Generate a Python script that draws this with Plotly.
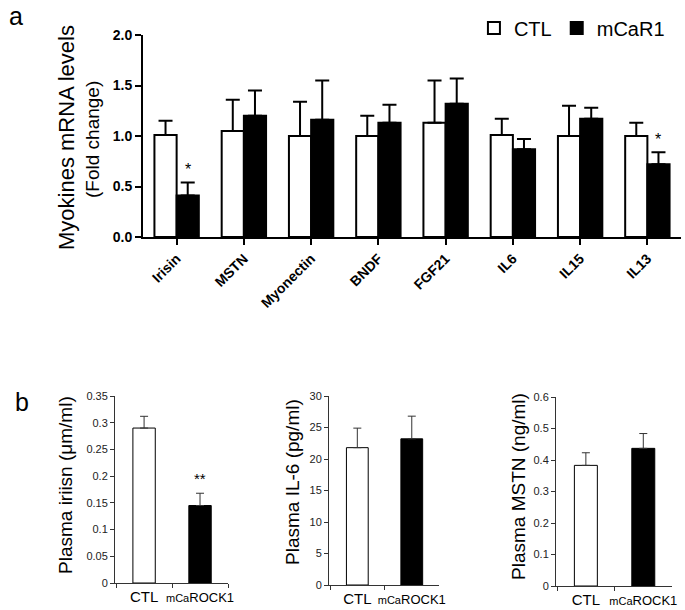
import plotly.graph_objects as go

W, H = 685, 610

# panel a: myokine mRNA (fold change)
myokines = ['Irisin', 'MSTN', 'Myonectin', 'BNDF', 'FGF21', 'IL6', 'IL15', 'IL13']
ctl_mrna = [1.01, 1.05, 1.00, 1.00, 1.13, 1.01, 1.00, 1.00]
ctl_mrna_err = [0.14, 0.31, 0.34, 0.20, 0.42, 0.16, 0.30, 0.13]
mcar_mrna = [0.41, 1.20, 1.16, 1.13, 1.32, 0.87, 1.17, 0.72]
mcar_mrna_err = [0.13, 0.25, 0.39, 0.18, 0.25, 0.10, 0.11, 0.12]

# panel b: plasma levels
groups = ['CTL', 'mCaROCK1']
group_labels = ['<span style="font-size:15px">CTL</span>',
                '<span style="font-size:11px">mCa</span>ROCK1']
irisin_vals = [0.290, 0.145]
irisin_err = [0.022, 0.023]
il6_vals = [21.8, 23.2]
il6_err = [3.1, 3.6]
mstn_vals = [0.383, 0.437]
mstn_err = [0.040, 0.047]

FONT = 'Arial, Liberation Sans, sans-serif'


def px_x(a, b):
    return [a / W, b / W]


def px_y(top, bottom):
    return [1 - bottom / H, 1 - top / H]


fig = go.Figure()

fig.add_trace(go.Bar(
    x=myokines, y=ctl_mrna, name='CTL',
    marker=dict(color='white', line=dict(color='black', width=2)),
    error_y=dict(type='data', array=ctl_mrna_err, arrayminus=[0] * 8, symmetric=False,
                 color='black', thickness=2, width=7),
    xaxis='x', yaxis='y'))
fig.add_trace(go.Bar(
    x=myokines, y=mcar_mrna, name='mCaR1',
    marker=dict(color='black', line=dict(color='black', width=2)),
    error_y=dict(type='data', array=mcar_mrna_err, arrayminus=[0] * 8, symmetric=False,
                 color='black', thickness=2, width=7),
    xaxis='x', yaxis='y'))

bottom = [(irisin_vals, irisin_err, '2'), (il6_vals, il6_err, '3'), (mstn_vals, mstn_err, '4')]
for vals, errs, n in bottom:
    fig.add_trace(go.Bar(
        x=groups, y=vals, width=0.4, showlegend=False,
        marker=dict(color=['white', 'black'], line=dict(color='black', width=1)),
        error_y=dict(type='data', array=errs, arrayminus=[0, 0], symmetric=False,
                     color='#333', thickness=1, width=4),
        xaxis='x' + n, yaxis='y' + n))

top_axis = dict(showline=True, linecolor='black', linewidth=2, ticks='outside',
                ticklen=6, tickwidth=2, tickcolor='black', showgrid=False, zeroline=False,
                automargin=False)
fig.update_layout(
    xaxis=dict(top_axis, domain=px_x(143, 681), anchor='y', range=[-0.5, 7.5], tickangle=-45,
               tickfont=dict(family=FONT, size=14, color='black', weight='bold')),
    yaxis=dict(top_axis, domain=px_y(35, 237), anchor='x', range=[0, 2.0], dtick=0.5,
               tickformat='.1f',
               tickfont=dict(family=FONT, size=14, color='black', weight='bold')),
)

bot_axis = dict(showline=True, linecolor='#333', linewidth=1, ticks='outside', ticklen=4,
                tickwidth=1, tickcolor='#333', showgrid=False, zeroline=False,
                automargin=False,
                tickfont=dict(family=FONT, size=11, color='#222'))
bot_x = dict(bot_axis, range=[-0.52, 1.5], tickson='boundaries', tickvals=groups,
             ticktext=group_labels, tickangle=0, ticklabelstandoff=2,
             tickfont=dict(family=FONT, size=13, color='black'))
fig.update_layout(
    xaxis2=dict(bot_x, domain=px_x(115, 228), anchor='y2'),
    yaxis2=dict(bot_axis, domain=px_y(396, 583), anchor='x2', range=[0, 0.35], dtick=0.05,
                tickformat='~g'),
    xaxis3=dict(bot_x, domain=px_x(329, 439), anchor='y3'),
    yaxis3=dict(bot_axis, domain=px_y(396, 585), anchor='x3', range=[0, 30], dtick=5),
    xaxis4=dict(bot_x, domain=px_x(556, 672), anchor='y4'),
    yaxis4=dict(bot_axis, domain=px_y(397, 586), anchor='x4', range=[0, 0.6], dtick=0.1,
                tickformat='~g'),
)

ann = []
# panel letters
ann.append(dict(text='a', x=16 / W, y=1 - 16 / H, xref='paper', yref='paper',
                xanchor='center', yanchor='middle',
                showarrow=False, font=dict(family=FONT, size=25, color='black')))
ann.append(dict(text='b', x=22 / W, y=1 - 402 / H, xref='paper', yref='paper',
                xanchor='center', yanchor='middle',
                showarrow=False, font=dict(family=FONT, size=25, color='black')))
# y titles
ann.append(dict(text='Myokines mRNA levels', x=67 / W, y=1 - 138 / H, xref='paper',
                yref='paper', textangle=-90, showarrow=False,
                xanchor='center', yanchor='middle',
                font=dict(family=FONT, size=22, color='black')))
ann.append(dict(text='(Fold change)', x=92 / W, y=1 - 140 / H, xref='paper',
                yref='paper', textangle=-90, showarrow=False,
                xanchor='center', yanchor='middle',
                font=dict(family=FONT, size=19, color='black')))
for txt, cx, cy in [('Plasma iriisn (\u03bcm/ml)', 65, 485),
                    ('Plasma IL-6 (pg/ml)', 293, 482),
                    ('Plasma MSTN (ng/ml)', 518, 487)]:
    ann.append(dict(text=txt, x=cx / W, y=1 - cy / H, xref='paper', yref='paper',
                    textangle=-90, showarrow=False, xanchor='center', yanchor='middle',
                    font=dict(family=FONT, size=19, color='black')))
# significance marks
for i in [0, 7]:
    ann.append(dict(text='*', x=i + 0.165, y=mcar_mrna[i] + mcar_mrna_err[i] + 0.02,
                    xref='x', yref='y', yanchor='bottom', showarrow=False,
                    font=dict(family=FONT, size=16, color='black')))
ann.append(dict(text='**', x=1, y=irisin_vals[1] + irisin_err[1] + 0.008, xref='x2',
                yref='y2', yanchor='bottom', showarrow=False,
                font=dict(family=FONT, size=15, color='black')))

fig.update_layout(
    template='none',
    width=W, height=H,
    margin=dict(l=0, r=0, t=0, b=0, pad=0),
    plot_bgcolor='white', paper_bgcolor='white',
    barmode='group', bargap=0.34, bargroupgap=0,
    annotations=ann,
    showlegend=True,
    legend=dict(orientation='h', x=0.978, xanchor='right', y=1 - 28 / H, yanchor='middle',
                font=dict(family=FONT, size=20, color='black'), itemwidth=30,
                bgcolor='rgba(0,0,0,0)'),
    font=dict(family=FONT),
)

# page has a default 8px body margin; drop it so the figure fills the window
fig.write_html('out.html', config={'displayModeBar': False},
               post_script="document.body.style.margin='0';")
